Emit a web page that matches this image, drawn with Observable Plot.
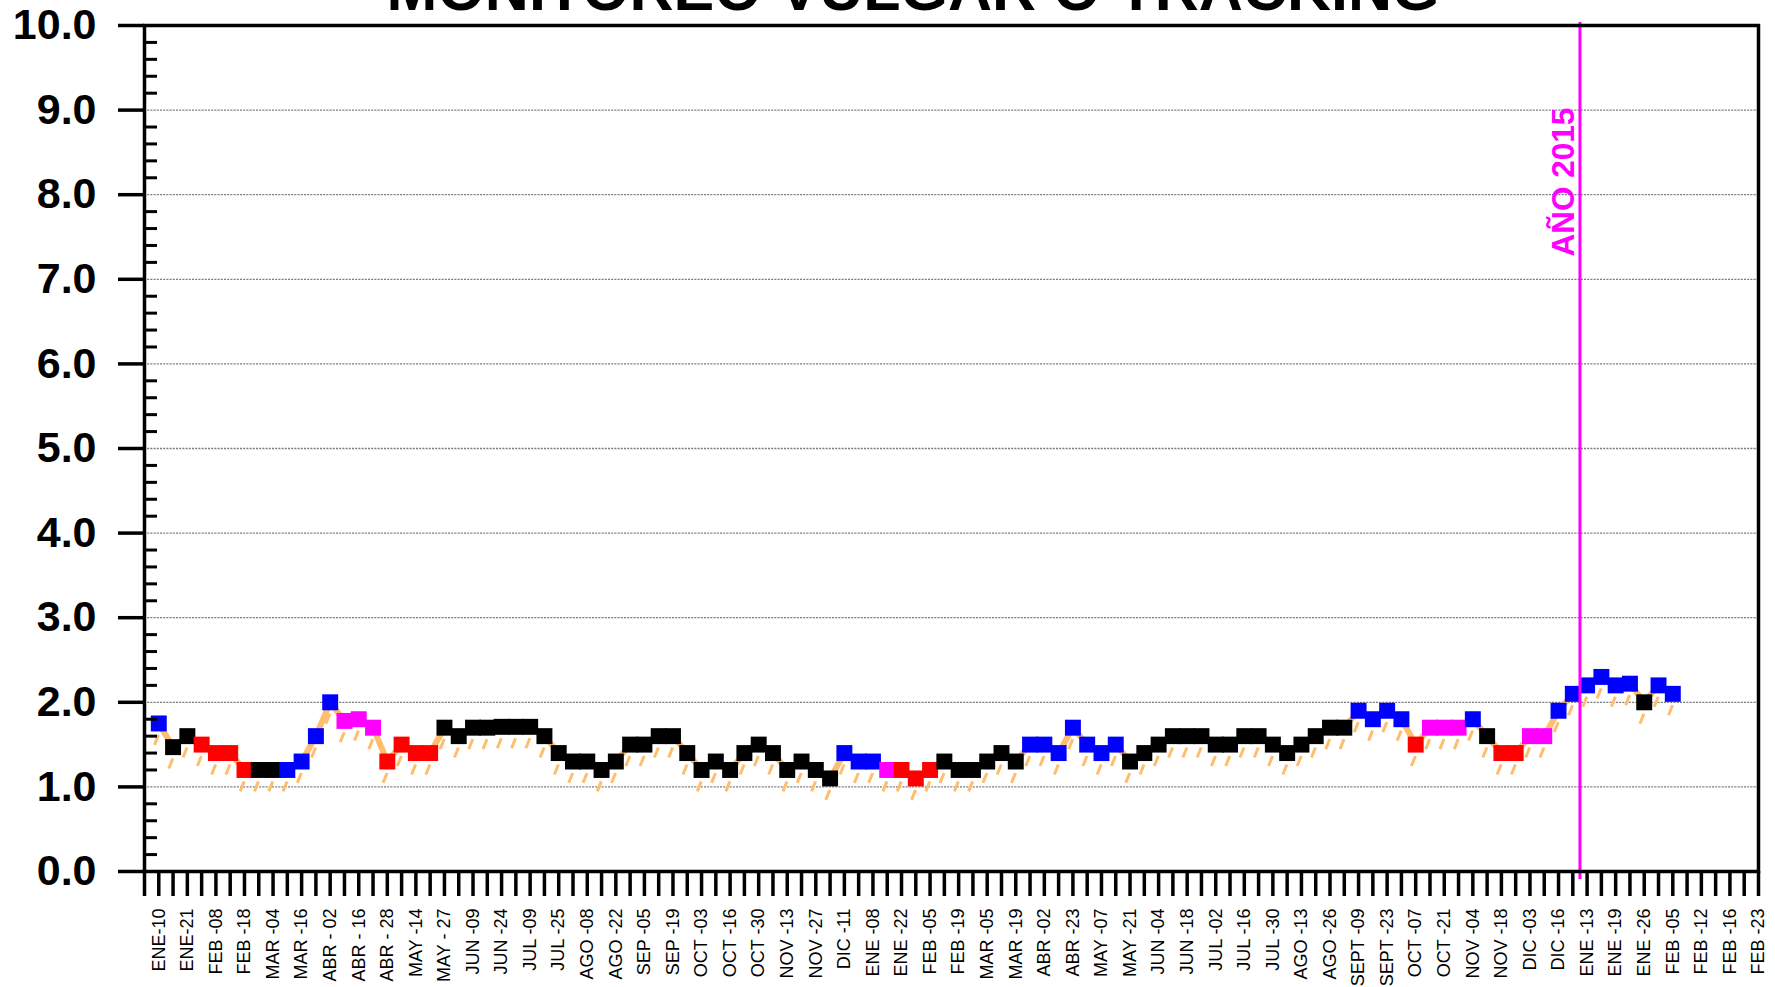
<!DOCTYPE html>
<html>
<head>
<meta charset="utf-8">
<script src="https://cdn.jsdelivr.net/npm/d3@7"></script>
<script src="https://cdn.jsdelivr.net/npm/@observablehq/plot@0.6"></script>
<style>
  html, body { margin: 0; padding: 0; background: #fff; overflow: hidden; }
  #wrap { position: relative; width: 1775px; height: 987px; }
  #title {
    position: absolute; left: 913px; top: -40.6px; transform: translateX(-50%);
    font: bold 61px "Liberation Sans", Arial, sans-serif; line-height: 61px;
    white-space: nowrap; color: #000; z-index: 2;
  }
</style>
</head>
<body>
<div id="wrap">
  <div id="title">MONITOREO VULGAR O TRACKING</div>
  <div id="chart"></div>
</div>
<script>
// ---- data ----
const values = [
  1.75,1.47,1.60,1.50,1.40,1.40,1.20,1.20,1.20,1.20,
  1.30,1.60,2.00,1.78,1.80,1.70,1.30,1.50,1.40,1.40,
  1.70,1.60,1.70,1.70,1.71,1.71,1.71,1.60,1.40,1.30,
  1.30,1.20,1.30,1.50,1.50,1.60,1.60,1.40,1.20,1.30,
  1.20,1.40,1.50,1.40,1.20,1.30,1.20,1.10,1.40,1.30,
  1.30,1.20,1.20,1.10,1.20,1.30,1.20,1.20,1.30,1.40,
  1.30,1.50,1.50,1.40,1.70,1.50,1.40,1.50,1.30,1.40,
  1.50,1.60,1.60,1.60,1.50,1.50,1.60,1.60,1.50,1.40,
  1.50,1.60,1.70,1.70,1.90,1.80,1.90,1.80,1.50,1.70,
  1.70,1.70,1.80,1.60,1.40,1.40,1.60,1.60,1.90,2.10,
  2.20,2.30,2.20,2.22,2.00,2.20,2.10
];
const statusCodes = [
  "B","K","K","R","R","R","R","K","K","B",
  "B","B","B","M","M","M","R","R","R","R",
  "K","K","K","K","K","K","K","K","K","K",
  "K","K","K","K","K","K","K","K","K","K",
  "K","K","K","K","K","K","K","K","B","B",
  "B","M","R","R","R","K","K","K","K","K",
  "K","B","B","B","B","B","B","B","K","K",
  "K","K","K","K","K","K","K","K","K","K",
  "K","K","K","K","B","B","B","B","R","M",
  "M","M","B","K","R","R","M","M","B","B",
  "B","B","B","B","K","B","B"
];
const xLabels = [
  "ENE-10","ENE-21","FEB -08","FEB -18","MAR -04","MAR -16","ABR - 02","ABR - 16","ABR - 28","MAY -14",
  "MAY - 27","JUN -09","JUN -24","JUL -09","JUL -25","AGO -08","AGO -22","SEP -05","SEP -19","OCT -03",
  "OCT -16","OCT -30","NOV -13","NOV -27","DIC -11","ENE -08","ENE -22","FEB -05","FEB -19","MAR -05",
  "MAR -19","ABR -02","ABR -23","MAY -07","MAY -21","JUN -04","JUN -18","JUL -02","JUL -16","JUL -30",
  "AGO -13","AGO -26","SEPT -09","SEPT -23","OCT -07","OCT -21","NOV -04","NOV -18","DIC -03","DIC -16",
  "ENE -13","ENE -19","ENE -26","FEB -05","FEB -12","FEB -16","FEB -23"
];
const yTicks = [0,1,2,3,4,5,6,7,8,9,10];
const gridValues = [1,2,3,4,5,6,7,8,9];
const yearMarkX = [100.5];
const yearMarkText = ["AÑO 2015"];
const yearMarkY = [7.27];

// ---- styles ----
const statusColor = {B: "#0000FF", K: "#000000", R: "#FF0000", M: "#FF00FF"};
const ORANGE = "#FFBD6E";
const MAGENTA = "#FF00FF";

const points = values.map((v, k) => ({i: k + 1, v, c: statusColor[statusCodes[k]]}));
const nTicks = 2 * xLabels.length - 1; // last tick index
const xTickIdx = d3.range(0, nTicks + 1);
const minorY = d3.range(0, 50).map(d => d / 5).filter(d => d % 1 !== 0 && d < 10);
const labelData = xLabels.map((t, j) => ({t, i: 2 * j + 1}));
const yearMark = yearMarkX.map((x, j) => ({x, y: yearMarkY[j], t: yearMarkText[j]}));

const chart = Plot.plot({
  width: 1775,
  height: 987,
  marginLeft: 144,
  marginRight: 17,
  marginTop: 25,
  marginBottom: 116,
  style: {fontFamily: "'Liberation Sans', Arial, sans-serif", background: "#fff", color: "#000", overflow: "visible"},
  x: {domain: [0, nTicks], axis: null},
  y: {domain: [0, 10], axis: null},
  marks: [
    Plot.ruleY(gridValues, {stroke: "#7a7a7a", strokeWidth: 1.3, strokeDasharray: "2,1.2"}),
    Plot.link(points, {
      x1: d => d.i - 0.3, y1: d => d.v - 0.253,
      x2: d => d.i - 0.02, y2: d => d.v - 0.135,
      stroke: ORANGE, strokeWidth: 3
    }),
    Plot.line(points, {x: "i", y: "v", stroke: ORANGE, strokeWidth: 6, strokeLinejoin: "round"}),
    Plot.dot(points, {x: "i", y: "v", symbol: "square", r: 9, fill: d => d.c, stroke: null}),
    Plot.ruleX(yearMark, {x: "x", stroke: MAGENTA, strokeWidth: 3, insetTop: -3, insetBottom: -8}),
    Plot.text(yearMark, {
      x: "x", y: "y", text: "t", rotate: -90, textAnchor: "start", lineAnchor: "bottom",
      dx: -5.5, fill: MAGENTA, fontSize: 31.5, fontWeight: "bold"
    }),
    Plot.frame({stroke: "#000", strokeWidth: 3.5}),
    Plot.axisY({
      ticks: yTicks, tickSize: 26, tickPadding: 22, tickFormat: d => d.toFixed(1),
      fontSize: 43, fontWeight: "bold", strokeWidth: 3.5, label: null
    }),
    Plot.axisY({ticks: minorY, tickSize: 13, dx: 13, tickFormat: () => "", strokeWidth: 3, label: null}),
    Plot.axisX({ticks: xTickIdx, tickSize: 25, tickFormat: () => "", strokeWidth: 3.5, label: null}),
    Plot.text(labelData, {
      x: "i", y: () => 0, text: "t", rotate: -90, textAnchor: "end", lineAnchor: "middle",
      dy: 37, fontSize: 18, fill: "#000"
    })
  ]
});
document.getElementById("chart").appendChild(chart);
</script>
</body>
</html>
